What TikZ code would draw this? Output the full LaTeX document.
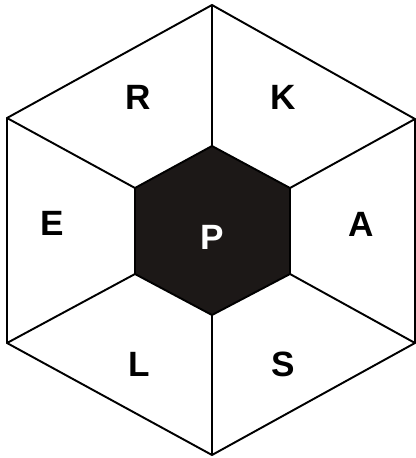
\documentclass[tikz,border=0pt]{standalone}
\usepackage{fontspec}
\setmainfont{Liberation Sans}
\usepackage{tikz}
\usetikzlibrary{positioning,calc}
\definecolor{coredark}{HTML}{1C1817}

\begin{document}
\begin{tikzpicture}[
    x=0.02cm, y=-0.02cm,
    edge/.style={draw=black, line width=1.1pt, line join=miter},
    core/.style={edge, fill=coredark},
    letter/.style={font=\fontsize{20}{24}\selectfont\bfseries, inner sep=0pt},
    coreletter/.style={letter, text=white}
]
\useasboundingbox (0,0) rectangle (416,458);

% Outer corners
\coordinate (otop) at (212,5);
\coordinate (oupl) at (7,118);
\coordinate (oupr) at (415,119);
\coordinate (olol) at (7,343);
\coordinate (olor) at (415,343);
\coordinate (obot) at (212,455);

% Inner corners
\coordinate (itop) at (212,146);
\coordinate (iupl) at (135,188);
\coordinate (iupr) at (290,188);
\coordinate (ilol) at (135,274);
\coordinate (ilor) at (290,274);
\coordinate (ibot) at (212,315);

% Outer hexagon
\draw[edge] (otop) -- (oupr) -- (olor) -- (obot) -- (olol) -- (oupl) -- cycle;

% Spokes
\draw[edge] (otop) -- (itop);
\draw[edge] (oupl) -- (iupl);
\draw[edge] (oupr) -- (iupr);
\draw[edge] (olol) -- (ilol);
\draw[edge] (olor) -- (ilor);
\draw[edge] (obot) -- (ibot);

% Inner hexagon
\draw[core] (itop) -- (iupr) -- (ilor) -- (ibot) -- (ilol) -- (iupl) -- cycle;

% Labels
\node[letter] (R) at (138,97) {R};
\node[letter] (K) at (283,97) {K};
\node[letter] (E) at (52,223) {E};
\node[letter] (A) at (361,224) {A};
\node[letter] (L) at (139,364) {L};
\node[letter] (S) at (283,364) {S};
\node[coreletter] (P) at (212,237) {P};

\end{tikzpicture}
\end{document}
